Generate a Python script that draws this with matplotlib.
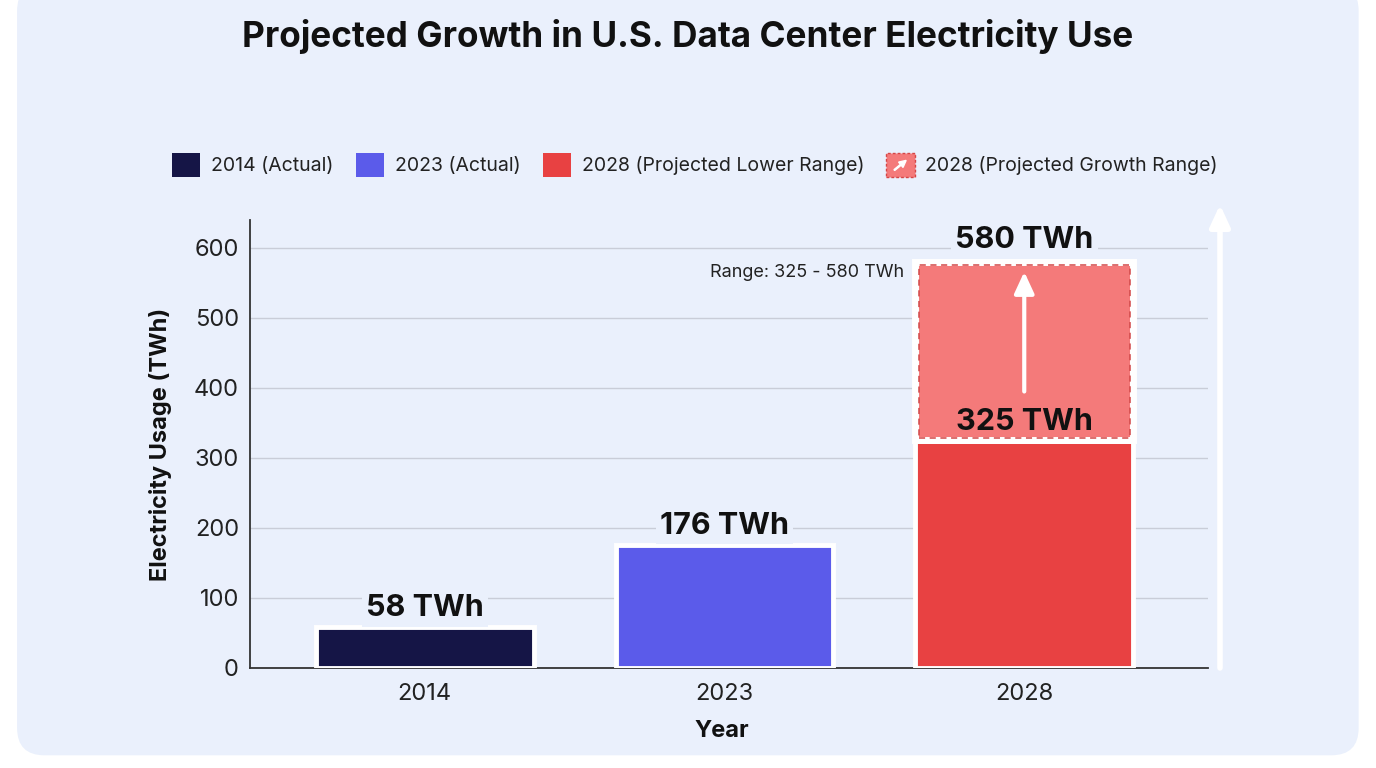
import matplotlib
matplotlib.use("Agg")
import matplotlib.pyplot as plt
from matplotlib.patches import FancyBboxPatch, Rectangle, FancyArrow
from matplotlib.legend_handler import HandlerPatch

plt.rcParams['font.family'] = ['Inter', 'DejaVu Sans']

years = ["2014", "2023", "2028"]
actual_values = [58, 176, 325]
projected_upper = 580
bar_colors = ["#151546", "#5B5BEA", "#E84142"]
growth_color = "#F47A7A"
legend_labels = ["2014 (Actual)", "2023 (Actual)", "2028 (Projected Lower Range)",
                 "2028 (Projected Growth Range)"]
yticks = [0, 100, 200, 300, 400, 500, 600]
panel = "#EAF0FC"

fig = plt.figure(figsize=(13.76, 7.68), dpi=100)
fig.patch.set_facecolor("white")
bg = FancyBboxPatch((0.0124 + 0.012, 0.018 + 0.02), 0.975 - 0.024, 1.02 - 0.018 - 0.04,
                    boxstyle="round,pad=0.012,rounding_size=0.02",
                    transform=fig.transFigure, facecolor=panel, edgecolor="none",
                    zorder=-10, mutation_aspect=1376/768)
fig.patches.append(bg)

ax = fig.add_axes([250/1376, 1-668/768, (1208-250)/1376, (668-220)/768])
ax.set_zorder(2)
ax.set_facecolor("none")
x = list(range(len(years)))
bw = 0.727

ax.set_ylim(0, 640)
ax.set_xlim(-0.583, 2.613)
ax.set_yticks(yticks)
ax.yaxis.grid(True, color="#C9CDD8", lw=1)
ax.set_axisbelow(True)
for s in ["top", "right"]:
    ax.spines[s].set_visible(False)
for s in ["left", "bottom"]:
    ax.spines[s].set_color("#333333")
    ax.spines[s].set_linewidth(1.3)
ax.tick_params(length=0, labelsize=17, colors="#222222", pad=8)
ax.set_xticks(x)
ax.set_xticklabels(years)
ax.tick_params(axis='x', pad=11)

ax.bar(x, actual_values, width=bw, color=bar_colors, edgecolor="white", linewidth=3.5, zorder=3)
# growth range
growth_h = projected_upper - actual_values[2]
ax.bar([2], [growth_h], bottom=[actual_values[2]], width=bw,
       color=growth_color, edgecolor="white", linewidth=5, zorder=3)
ax.bar([2], [growth_h - 8], bottom=[actual_values[2] + 4], width=bw - 0.022,
       facecolor="none", edgecolor="#D24848", linewidth=1.1, linestyle=(0, (4, 3)), zorder=4)

lbl_kw = dict(ha="center", va="bottom", fontsize=22, fontweight="bold", color="#111111", zorder=6)
for xi, v in zip(x[:2], actual_values[:2]):
    ax.text(xi, v + 7, f"{v} TWh",
            bbox=dict(facecolor=panel, edgecolor="none", pad=3), **lbl_kw)
ax.text(2, actual_values[2] + 6, f"{actual_values[2]} TWh", **lbl_kw)
ax.text(2, projected_upper + 11, f"{projected_upper} TWh",
        bbox=dict(facecolor=panel, edgecolor="none", pad=3), **lbl_kw)
ax.text(1.60, 565, f"Range: {actual_values[2]} - {projected_upper} TWh", ha="right", va="center",
        fontsize=13, color="#222222", zorder=6)

# arrow inside the growth range
ax.annotate("", xy=(2, 566), xytext=(2, 395),
            arrowprops=dict(arrowstyle="-|>,head_length=1.3,head_width=0.6", color="white", lw=3,
                            shrinkA=0, shrinkB=0), zorder=7)
# big arrow at right
ax.annotate("", xy=(2.653, 662), xytext=(2.653, 0),
            arrowprops=dict(arrowstyle="-|>,head_length=1.3,head_width=0.6", color="white", lw=4,
                            shrinkA=0, shrinkB=0), annotation_clip=False, zorder=7)

ax.set_xlabel("Year", fontsize=17, fontweight="bold", color="#111111")
ax.xaxis.set_label_coords(0.492, -0.115)
ax.set_ylabel("Electricity Usage (TWh)", fontsize=17, fontweight="bold", color="#111111", labelpad=16)

fig.text(688/1376, 1-37/768, "Projected Growth in U.S. Data Center Electricity Use",
         ha="center", va="center", fontsize=25.3, fontweight="bold", color="#111111")


class GrowthHandler(HandlerPatch):
    def create_artists(self, legend, orig_handle, xdescent, ydescent, width, height, fontsize, trans):
        r = Rectangle((-xdescent, -ydescent), width, height, facecolor=growth_color,
                      edgecolor="#D64545", linestyle=(0, (2, 1.5)), lw=1, transform=trans)
        a = FancyArrow(-xdescent + width*0.28, -ydescent + height*0.28, width*0.42, height*0.42,
                       width=0.8, head_width=5, head_length=5, color="white",
                       length_includes_head=True, transform=trans)
        return [r, a]


handles = [Rectangle((0, 0), 1, 1, facecolor=c) for c in bar_colors]
gh = Rectangle((0, 0), 1, 1, facecolor=growth_color)
handles.append(gh)
leg = fig.legend(handles, legend_labels, loc="center", bbox_to_anchor=(695/1376, 1-165/768),
                 ncol=4, frameon=False, fontsize=14, handlelength=1.45, handleheight=1.45,
                 columnspacing=1.15, handletextpad=0.55,
                 handler_map={gh: GrowthHandler()})
for t in leg.get_texts():
    t.set_color("#222222")

fig.savefig("out.png", dpi=100, facecolor="white")
